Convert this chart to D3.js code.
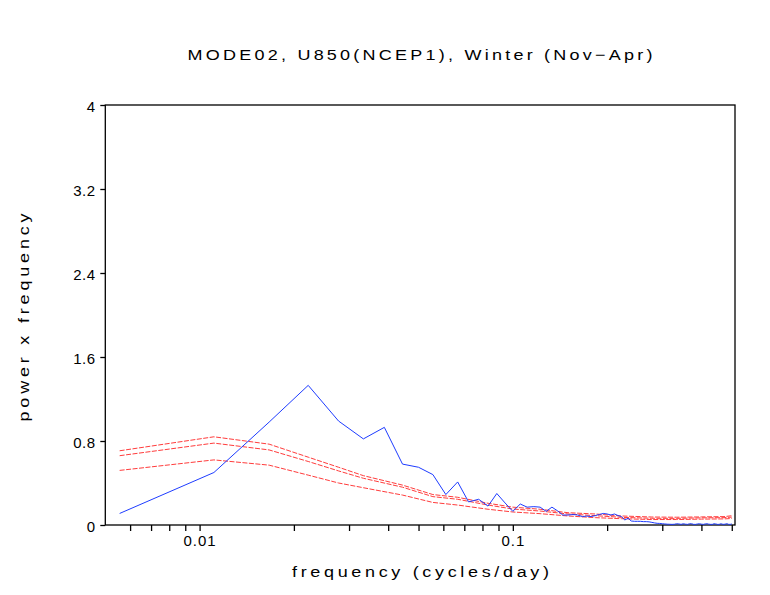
<!DOCTYPE html>
<html>
<head>
<meta charset="utf-8">
<script src="https://cdn.jsdelivr.net/npm/d3@7"></script>
<style>
  body { margin: 0; background: #fff; }
  text { font-family: "Liberation Sans", Arial, sans-serif; fill: #000; }
</style>
</head>
<body>
<div id="chart"></div>
<script>
// spectrum frequencies (cycles/day), harmonics of a 180-day season
const freqs = [
  0.005556, 0.01111, 0.01667, 0.02222, 0.02778, 0.03333, 0.03889, 0.04444, 0.05, 0.05556,
  0.06111, 0.06667, 0.07222, 0.07778, 0.08333, 0.08889, 0.09444, 0.1, 0.1056, 0.1111,
  0.1167, 0.1222, 0.1278, 0.1333, 0.1389, 0.1444, 0.15, 0.1556, 0.1611, 0.1667,
  0.1722, 0.1778, 0.1833, 0.1889, 0.1944, 0.2, 0.2056, 0.2111, 0.2167, 0.2222,
  0.2278, 0.2333, 0.2389, 0.2444, 0.25, 0.2556, 0.2611, 0.2667, 0.2722, 0.2778,
  0.2833, 0.2889, 0.2944, 0.3, 0.3056, 0.3111, 0.3167, 0.3222, 0.3278, 0.3333,
  0.3389, 0.3444, 0.35, 0.3556, 0.3611, 0.3667, 0.3722, 0.3778, 0.3833, 0.3889,
  0.3944, 0.4, 0.4056, 0.4111, 0.4167, 0.4222, 0.4278, 0.4333, 0.4389, 0.4444,
  0.45, 0.4556, 0.4611, 0.4667, 0.4722, 0.4778, 0.4833, 0.4889, 0.4944, 0.5
];

// power x frequency of the mode
const power = [
  0.11, 0.50, 0.98, 1.33, 0.99, 0.82, 0.93, 0.58, 0.55, 0.48,
  0.29, 0.41, 0.22, 0.245, 0.18, 0.30, 0.21, 0.13, 0.20, 0.17,
  0.175, 0.17, 0.13, 0.17, 0.135, 0.095, 0.095, 0.10, 0.095, 0.08,
  0.085, 0.08, 0.09, 0.10, 0.11, 0.105, 0.095, 0.105, 0.09, 0.08,
  0.048, 0.064, 0.038, 0.035, 0.035, 0.035, 0.032, 0.032, 0.03, 0.025,
  0.02, 0.016, 0.015, 0.012, 0.01, 0.008, 0.007, 0.006, 0.007, 0.012,
  0.01, 0.006, 0.012, 0.008, 0.006, 0.012, 0.012, 0.006, 0.006, 0.01,
  0.012, 0.008, 0.006, 0.01, 0.012, 0.008, 0.006, 0.006, 0.012, 0.01,
  0.006, 0.006, 0.012, 0.008, 0.006, 0.01, 0.012, 0.006, 0.006, 0.01
];

// red-noise reference curves
const redFreqs = [
  0.005556, 0.01111, 0.01667, 0.02222, 0.02778, 0.03333, 0.04444, 0.05556, 0.06667, 0.08333,
  0.1, 0.1222, 0.15, 0.1833, 0.2222, 0.2778, 0.3333, 0.4, 0.4722, 0.5
];
const redUpper = [
  0.707, 0.84, 0.77, 0.646, 0.55, 0.47, 0.38, 0.29, 0.264, 0.207,
  0.17, 0.15, 0.117, 0.105, 0.086, 0.076, 0.074, 0.077, 0.08, 0.088
];
const redMiddle = [
  0.66, 0.78, 0.715, 0.605, 0.515, 0.445, 0.36, 0.27, 0.245, 0.19,
  0.152, 0.133, 0.105, 0.089, 0.073, 0.064, 0.063, 0.068, 0.07, 0.075
];
const redLower = [
  0.52, 0.62, 0.57, 0.475, 0.40, 0.355, 0.285, 0.215, 0.19, 0.15,
  0.124, 0.108, 0.086, 0.07, 0.06, 0.052, 0.052, 0.056, 0.058, 0.062
];

const xTicks = [0.006, 0.007, 0.008, 0.009, 0.01, 0.02, 0.03, 0.04, 0.05, 0.06, 0.07, 0.08, 0.09,
                0.1, 0.2, 0.3, 0.4, 0.5];
const xLabelled = [0.01, 0.1];
const yTicks = [0, 0.8, 1.6, 2.4, 3.2, 4];

const W = 770, H = 595;
const margin = {top: 105, right: 35, bottom: 70, left: 105.3};
const width = W - margin.left - margin.right;
const height = H - margin.top - margin.bottom;
const stretch = 1.2; // wide, thin lettering

const svg = d3.select("#chart")
  .append("svg")
    .attr("width", W)
    .attr("height", H);

const g = svg.append("g")
  .attr("transform", `translate(${margin.left},${margin.top})`);

const x = d3.scaleLog().domain([0.005, 0.512]).range([0, width]);
const y = d3.scaleLinear().domain([0, 4]).range([height, 0]);

//Axes
const xAxis = g.append("g")
  .attr("transform", `translate(0,${height})`)
  .call(d3.axisBottom(x)
    .tickValues(xTicks)
    .tickSize(6)
    .tickPadding(4)
    .tickFormat(d => xLabelled.includes(d) ? String(d) : ""));

const yAxis = g.append("g")
  .call(d3.axisLeft(y)
    .tickValues(yTicks)
    .tickSize(5)
    .tickPadding(4.5)
    .tickFormat(d => String(d)));

[xAxis, yAxis].forEach(a => {
  a.select(".domain").remove();
  a.selectAll("line").attr("stroke", "#000").attr("stroke-width", 1.3);
  a.selectAll("text").style("font-size", "15px").attr("fill", "#000");
});
yAxis.selectAll("text").attr("dy", "0.45em").attr("letter-spacing", "0.6px");
xAxis.selectAll("text").attr("letter-spacing", "1px");

g.append("rect")
  .attr("width", width)
  .attr("height", height)
  .attr("fill", "none")
  .attr("stroke", "#000")
  .attr("stroke-width", 1.3);

//Lines
const line = d3.line()
  .x(d => x(d[0]))
  .y(d => y(d[1]));

[redLower, redMiddle, redUpper].forEach(vals => {
  g.append("path")
    .datum(redFreqs.map((f, i) => [f, vals[i]]))
    .attr("fill", "none")
    .attr("stroke", "#ff3c3c")
    .attr("stroke-width", 1)
    .attr("stroke-dasharray", "5,1.5")
    .attr("d", line);
});

g.append("path")
  .datum(freqs.map((f, i) => [f, power[i]]))
  .attr("fill", "none")
  .attr("stroke", "#1e3cff")
  .attr("stroke-width", 1)
  .attr("d", line);

//Titles
function label(transform, len, txt) {
  svg.append("text")
    .attr("transform", `${transform} scale(${stretch},1)`)
    .attr("text-anchor", "middle")
    .attr("textLength", len / stretch)
    .attr("lengthAdjust", "spacing")
    .style("font-size", "15px")
    .text(txt);
}

label("translate(420,60)", 465, "MODE02, U850(NCEP1), Winter (Nov\u2212Apr)");
label("translate(420.5,577)", 257, "frequency (cycles/day)");
label("translate(29,317.5) rotate(-90)", 208, "power x frequency");
</script>
</body>
</html>
